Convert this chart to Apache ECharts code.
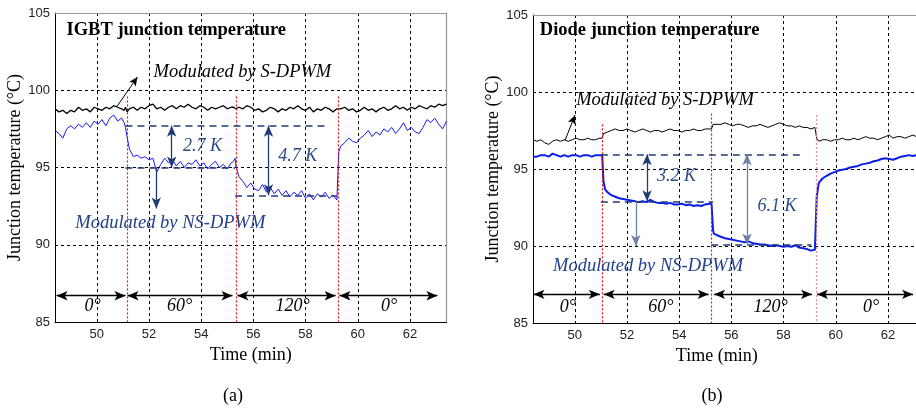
<!DOCTYPE html>
<html>
<head>
<meta charset="utf-8">
<script src="https://cdn.jsdelivr.net/npm/echarts@6/dist/echarts.min.js"></script>
<style>
html, body { margin: 0; padding: 0; background: #fff; }
#main { width: 916px; height: 413px; }
</style>
</head>
<body>
<div id="main"></div>
<script>
// sample times (min), shared by both panels
var times = [
  48.40, 48.55, 48.70, 48.85, 49.00, 49.15, 49.30, 49.45, 49.60, 49.75, 49.90, 50.05, 50.20, 50.35, 50.50, 50.65, 50.80, 50.95,
  51.05, 51.10, 51.16,
  51.25, 51.40, 51.55, 51.70, 51.85, 52.00, 52.15, 52.30, 52.45, 52.60, 52.75, 52.90, 53.05, 53.20, 53.35, 53.50, 53.65, 53.80, 53.95, 54.10, 54.25, 54.40, 54.55, 54.70, 54.85, 55.00, 55.15,
  55.24, 55.30, 55.33,
  55.45, 55.60, 55.75, 55.90, 56.05, 56.20, 56.35, 56.50, 56.65, 56.80, 56.95, 57.10, 57.25, 57.40, 57.55, 57.70, 57.85, 58.00, 58.15, 58.30, 58.45, 58.60, 58.75, 58.90, 59.05, 59.20,
  59.27,
  59.35, 59.50, 59.65, 59.80, 59.95, 60.10, 60.25, 60.40, 60.55, 60.70, 60.85, 61.00, 61.15, 61.30, 61.45, 61.60, 61.75, 61.90, 62.05, 62.20, 62.35, 62.50, 62.65, 62.80, 62.95, 63.10, 63.25, 63.40
];

// (a) IGBT
var igbtS = [
  98.8, 98.6, 98.7, 98.5, 98.7, 98.6, 98.9, 98.7, 98.8, 98.6, 98.9, 98.8, 98.7, 98.9, 98.8, 99.0, 98.9, 98.8,
  98.7, 98.9, 98.6,
  98.8, 98.9, 98.7, 98.9, 98.8, 99.0, 99.1, 98.8, 98.9, 98.7, 98.9, 99.0, 98.8, 99.0, 98.9, 99.1, 98.9, 98.8, 99.0, 98.9, 98.7, 98.9, 98.8, 98.9, 99.0, 98.8, 98.9,
  98.9, 99.0, 98.8,
  98.9, 98.8, 99.0, 98.9, 98.7, 98.8, 98.6, 98.7, 98.9, 98.8, 98.6, 98.8, 98.7, 98.9, 98.8, 99.0, 98.8, 98.7, 98.9, 98.6, 98.8, 98.7, 98.9, 98.8, 98.6, 98.8,
  98.9,
  98.8, 98.9, 98.7, 98.8, 98.6, 98.7, 98.9, 98.7, 98.8, 98.6, 98.8, 98.9, 98.7, 98.8, 99.0, 98.8, 98.9, 98.7, 98.9, 98.8, 99.0, 98.9, 98.8, 99.0, 98.9, 99.1, 99.0, 99.1
];
var igbtNS = [
  97.4, 97.2, 96.9, 97.5, 97.7, 97.5, 97.8, 97.6, 97.9, 97.6, 98.0, 97.8, 98.1, 97.7, 98.2, 98.4, 98.0, 98.2,
  97.9, 97.6, 97.0,
  96.2, 95.7, 95.8, 95.6, 95.7, 95.5, 95.6, 94.7, 95.2, 95.6, 95.3, 95.5, 95.1, 95.4, 95.0, 95.3, 95.2, 95.5, 95.1, 95.3, 94.9, 95.2, 95.4, 95.0, 95.2, 94.9, 95.3,
  95.4, 95.6, 95.1,
  94.4, 94.1, 93.7, 94.0, 93.6, 93.5, 93.9, 93.4, 93.7, 93.3, 93.6, 93.2, 93.5, 93.1, 93.4, 93.2, 93.5, 93.0, 93.3, 92.9, 93.3, 93.1, 93.4, 93.0, 93.2, 92.9,
  96.0,
  96.4, 96.6, 96.9, 96.7, 96.6, 96.9, 97.1, 97.4, 97.0, 97.3, 97.1, 97.5, 97.3, 97.6, 97.2, 97.5, 97.9, 97.4, 97.6, 97.3, 97.2, 97.6, 98.1, 97.9, 98.2, 97.8, 97.5, 98.0
];

// (b) Diode
var diodeS = [
  96.9, 96.8, 96.9, 96.7, 96.6, 96.8, 96.9, 96.8, 96.9, 96.8, 96.9, 97.0, 96.9, 96.9, 97.0, 96.9, 96.9, 97.0,
  97.0, 97.3, 97.3,
  97.4, 97.5, 97.6, 97.5, 97.5, 97.6, 97.5, 97.4, 97.5, 97.6, 97.5, 97.4, 97.5, 97.5, 97.4, 97.5, 97.6, 97.5, 97.5, 97.4, 97.5, 97.5, 97.6, 97.5, 97.5, 97.6, 97.6,
  97.6, 97.9, 98.0,
  97.9, 97.9, 98.0, 97.9, 97.8, 97.9, 97.9, 97.8, 97.7, 97.8, 97.8, 97.9, 97.8, 97.7, 97.8, 97.9, 98.0, 97.9, 97.8, 97.8, 97.7, 97.8, 97.7, 97.7, 97.6, 97.7,
  97.0,
  96.8, 96.9, 96.9, 96.8, 96.9, 96.9, 97.0, 96.9, 96.9, 97.0, 96.9, 97.0, 97.1, 97.0, 97.0, 96.9, 97.0, 97.1, 97.2, 97.0, 97.1, 97.1, 97.0, 97.1, 97.2, 97.1, 97.1, 97.0
];
var diodeNS = [
  95.8, 95.8, 95.9, 95.9, 95.8, 96.0, 95.9, 95.8, 95.9, 95.8, 95.9, 95.9, 95.8, 95.9, 95.9, 95.8, 95.9, 95.9,
  95.9, 94.2, 93.7,
  93.5, 93.3, 93.2, 93.1, 93.05, 93.0, 92.95, 92.9, 92.85, 92.9, 92.85, 93.0, 92.85, 92.8, 92.8, 92.75, 92.8, 92.7, 92.7, 92.75, 92.65, 92.7, 92.6, 92.65, 92.6, 92.7, 92.75,
  92.75, 91.0, 90.8,
  90.7, 90.6, 90.5, 90.45, 90.4, 90.35, 90.3, 90.25, 90.3, 90.2, 90.15, 90.1, 90.1, 90.05, 90.0, 90.05, 90.0, 89.95, 90.0, 89.95, 90.05, 89.9, 89.85, 89.8, 89.7, 89.75,
  93.2,
  94.1, 94.4, 94.55, 94.7, 94.8, 94.9, 94.95, 95.0, 95.1, 95.15, 95.2, 95.3, 95.35, 95.4, 95.5, 95.55, 95.65, 95.7, 95.65, 95.6, 95.7, 95.8, 95.85, 95.9, 95.85, 95.9, 95.85, 95.9
];

// phase annotations
var phaseLabels = ['0°', '60°', '120°', '0°'];
var igbtEdges = [51.16, 55.33, 59.25];
var diodeEdges = [51.05, 55.24, 59.25];
var igbtEdgeTop = [99.6, 99.6, 99.6];
var diodeEdgeTop = [97.9, 98.6, 98.5];
var igbtSpans = [[48.46, 51.10], [51.18, 55.20], [55.39, 59.15], [59.30, 63.05]];
var diodeSpans = [[48.42, 50.96], [51.11, 55.13], [55.34, 59.09], [59.28, 62.96]];
var igbtSpanLevel = 86.7;
var diodeSpanLevel = 86.86;
var igbtLabelAt = [49.84, 53.17, 57.5, 61.2];
var diodeLabelAt = [49.74, 53.3, 57.5, 61.35];

// temperature differences
var igbtRef = [51.1, 58.75, 97.7];
var igbtLevels = [[51.1, 55.3, 95.0], [55.3, 59.2, 93.2]];
var igbtDeltaX = [52.87, 56.58];
var igbtDeltaText = ['2.7 K', '4.7 K'];
var igbtDeltaPos = [[54.05, 96.4], [57.7, 95.7]];
var diodeRef = [51.0, 58.75, 95.95];
var diodeLevels = [[51.0, 55.3, 92.9], [55.23, 59.06, 90.1]];
var diodeDeltaX = [52.77, 56.6];
var diodeDeltaText = ['3.2 K', '6.1 K'];
var diodeDeltaPos = [[53.9, 94.5], [57.75, 92.6]];

var SERIF = '"Liberation Serif", "DejaVu Serif", serif';
var SANS = '"Liberation Sans", Arial, sans-serif';
var NAVY = '#1f3b73';
var SLATE = '#6f80a6';

function zip(vals) {
  return times.map(function (t, i) { return [t, vals[i]]; });
}

function redLines(edges, tops, color) {
  return edges.map(function (e, i) {
    return [{ coord: [e, tops[i]], symbol: 'none' },
            { coord: [e, 85], symbol: 'none', lineStyle: { color: color[i], type: [2, 2], width: 1.2 } }];
  });
}

function spanArrows(spans, level) {
  return spans.map(function (s) {
    return [{ coord: [s[0], level], symbol: 'arrow' },
            { coord: [s[1], level], symbol: 'arrow', lineStyle: { color: '#000', width: 1.3, type: 'solid' } }];
  });
}

function dashed(x0, x1, y) {
  return [{ coord: [x0, y], symbol: 'none' },
          { coord: [x1, y], symbol: 'none', lineStyle: { color: NAVY, width: 1.5, type: [7, 5] } }];
}

function arrow(x, y0, y1, both, color) {
  return [{ coord: [x, y0], symbol: both ? 'arrow' : 'none' },
          { coord: [x, y1], symbol: 'arrow', lineStyle: { color: color, width: 1.3, type: 'solid' } }];
}

var igbtMarks = redLines(igbtEdges, igbtEdgeTop, ['#e01010', '#e01010', '#e01010'])
  .concat(spanArrows(igbtSpans, igbtSpanLevel))
  .concat([
    dashed(igbtRef[0], igbtRef[1], igbtRef[2]),
    dashed(igbtLevels[0][0], igbtLevels[0][1], igbtLevels[0][2]),
    dashed(igbtLevels[1][0], igbtLevels[1][1], igbtLevels[1][2]),
    arrow(igbtDeltaX[0], igbtRef[2], igbtLevels[0][2], true, NAVY),
    arrow(igbtDeltaX[1], igbtRef[2], igbtLevels[1][2], true, NAVY),
    arrow(52.28, 95.0, 92.35, false, NAVY),
    [{ coord: [50.76, 98.92], symbol: 'none' },
     { coord: [51.56, 100.86], symbol: 'arrow', symbolSize: [6, 9], lineStyle: { color: '#000', width: 1, type: 'solid' } }]
  ]);

var diodeMarks = redLines(diodeEdges, diodeEdgeTop, ['#e01010', '#e01010', '#f08a8a'])
  .concat(spanArrows(diodeSpans, diodeSpanLevel))
  .concat([
    dashed(diodeRef[0], diodeRef[1], diodeRef[2]),
    dashed(diodeLevels[0][0], diodeLevels[0][1], diodeLevels[0][2]),
    dashed(diodeLevels[1][0], diodeLevels[1][1], diodeLevels[1][2]),
    arrow(diodeDeltaX[0], diodeRef[2], diodeLevels[0][2], true, NAVY),
    arrow(diodeDeltaX[1], diodeRef[2], diodeLevels[1][2], true, SLATE),
    arrow(52.34, 92.9, 90.0, false, SLATE),
    [{ coord: [49.63, 96.87], symbol: 'none' },
     { coord: [50.01, 98.5], symbol: 'arrow', symbolSize: [6, 9], lineStyle: { color: '#000', width: 1, type: 'solid' } }]
  ]);

function bottomX(gi) {
  return {
    type: 'value', gridIndex: gi, min: 48.4, max: 63.4, splitNumber: 7,
    axisLine: { lineStyle: { color: '#000', width: 1 } },
    axisTick: { show: false },
    axisLabel: { showMinLabel: false, showMaxLabel: false, color: '#222', fontFamily: SANS, fontSize: 13, margin: 6 },
    splitLine: { show: true, showMinLine: false, showMaxLine: false, lineStyle: { color: '#000', type: [3, 3], width: 1 } },
    name: 'Time (min)', nameLocation: 'middle', nameGap: 13,
    nameTextStyle: { fontFamily: SERIF, fontSize: 18, color: '#000', padding: gi === 1 ? [0, 24, 0, 0] : 0 }
  };
}
function topX(gi) {
  return {
    type: 'value', gridIndex: gi, position: 'top', min: 48.4, max: 63.4,
    axisLine: { lineStyle: { color: '#999', width: 1.2 } },
    axisTick: { show: false }, axisLabel: { show: false }, splitLine: { show: false }
  };
}
function leftY(gi) {
  return {
    type: 'value', gridIndex: gi, min: 85, max: 105, interval: 5,
    axisLine: { show: true, lineStyle: { color: '#000', width: 1 } },
    axisTick: { show: false },
    axisLabel: { color: '#222', fontFamily: SANS, fontSize: 13, margin: 5 },
    splitLine: { show: true, showMinLine: false, showMaxLine: false, lineStyle: { color: '#000', type: [3, 3], width: 1 } },
    name: 'Junction temperature (°C)', nameLocation: 'middle', nameGap: 29, nameRotate: 90,
    nameTextStyle: { fontFamily: SERIF, fontSize: 18, color: '#000' }
  };
}
function rightY(gi) {
  return {
    type: 'value', gridIndex: gi, position: 'right', min: 85, max: 105,
    axisLine: { show: true, lineStyle: { color: '#999', width: 1.2 } },
    axisTick: { show: false }, axisLabel: { show: false }, splitLine: { show: false }
  };
}

var option = {
  animation: false,
  backgroundColor: '#fff',
  grid: [
    { left: 55, top: 13, width: 391.5, height: 309, outerBoundsMode: 'none', containLabel: false },
    { left: 533, top: 15, width: 391.5, height: 308, outerBoundsMode: 'none', containLabel: false }
  ],
  xAxis: [bottomX(0), bottomX(1), topX(0), topX(1)],
  yAxis: [leftY(0), leftY(1), rightY(0), rightY(1)],
  series: [
    {
      type: 'line', xAxisIndex: 0, yAxisIndex: 0, data: zip(igbtS), showSymbol: false,
      lineStyle: { color: '#000', width: 1.3 }, itemStyle: { color: '#000' }, z: 3
    },
    {
      type: 'line', xAxisIndex: 0, yAxisIndex: 0, data: zip(igbtNS), showSymbol: false,
      lineStyle: { color: '#1a1aff', width: 1 }, itemStyle: { color: '#1a1aff' }, z: 3,
      markLine: { silent: true, symbolSize: [7, 11], label: { show: false }, data: igbtMarks }
    },
    {
      type: 'line', xAxisIndex: 1, yAxisIndex: 1, data: zip(diodeS), showSymbol: false,
      lineStyle: { color: '#000', width: 1 }, itemStyle: { color: '#000' }, z: 3
    },
    {
      type: 'line', xAxisIndex: 1, yAxisIndex: 1, data: zip(diodeNS), showSymbol: false,
      lineStyle: { color: '#0a1ef0', width: 2 }, itemStyle: { color: '#0a1ef0' }, z: 3,
      markLine: { silent: true, symbolSize: [7, 11], label: { show: false }, data: diodeMarks }
    }
  ]
};

var chart = echarts.init(document.getElementById('main'));
chart.setOption(option);

function px(si, t, v) { return chart.convertToPixel({ seriesIndex: si }, [t, v]); }
function txt(p, text, font, color, align) {
  return {
    type: 'text', x: p[0], y: p[1], z: 10, silent: true,
    style: {
      text: text, font: font, fill: color,
      align: align || 'center', verticalAlign: 'middle',
      textAlign: align || 'center', textVerticalAlign: 'middle'
    }
  };
}

var ITAL = 'italic 18.5px ' + SERIF;
var graphics = [];
graphics.push(txt(px(0, 48.84, 103.9), 'IGBT junction temperature', 'bold 18.5px ' + SERIF, '#000', 'left'));
graphics.push(txt(px(2, 48.66, 104.0), 'Diode junction temperature', 'bold 18.5px ' + SERIF, '#000', 'left'));
graphics.push(txt(px(0, 55.58, 101.18), 'Modulated by S-DPWM', ITAL, '#000'));
graphics.push(txt(px(2, 53.46, 99.47), 'Modulated by S-DPWM', ITAL, '#000'));
graphics.push(txt(px(0, 52.82, 91.41), 'Modulated by NS-DPWM', ITAL, '#23408a'));
graphics.push(txt(px(2, 52.81, 88.68), 'Modulated by NS-DPWM', ITAL, '#23408a'));
igbtDeltaText.forEach(function (s, i) {
  graphics.push(txt(px(0, igbtDeltaPos[i][0], igbtDeltaPos[i][1]), s, 'italic 18px ' + SERIF, '#2b4a85'));
});
diodeDeltaText.forEach(function (s, i) {
  graphics.push(txt(px(2, diodeDeltaPos[i][0], diodeDeltaPos[i][1]), s, 'italic 18px ' + SERIF, '#2b4a85'));
});
phaseLabels.forEach(function (s, i) {
  graphics.push(txt(px(0, igbtLabelAt[i], 86.0), s, 'italic 18px ' + SERIF, '#000'));
  graphics.push(txt(px(2, diodeLabelAt[i], 86.0), s, 'italic 18px ' + SERIF, '#000'));
});
graphics.push(txt([233, 396], '(a)', '18px ' + SERIF, '#000'));
graphics.push(txt([712, 396], '(b)', '18px ' + SERIF, '#000'));

chart.setOption({ graphic: graphics });
</script>
</body>
</html>
